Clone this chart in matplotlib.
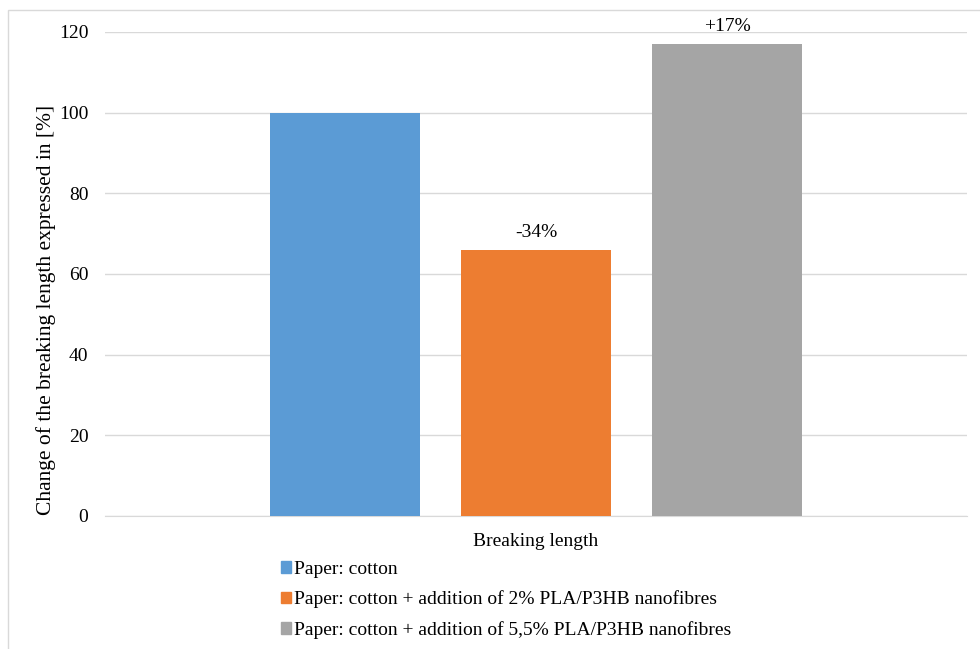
import matplotlib.pyplot as plt
from matplotlib.patches import Rectangle, Patch

# data
series = ["Paper: cotton",
          "Paper: cotton + addition of 2% PLA/P3HB nanofibres",
          "Paper: cotton + addition of 5,5% PLA/P3HB nanofibres"]
values = [100, 66, 117]
labels = ["", "-34%", "+17%"]
colors = ["#5B9BD5", "#ED7D31", "#A5A5A5"]
category = "Breaking length"

plt.rcParams['font.family'] = ['Liberation Serif', 'DejaVu Serif']

fig = plt.figure(figsize=(9.8, 6.49), dpi=100)
W, H = 980, 649
ax = fig.add_axes([105 / W, 1 - 516 / H, (967 - 105) / W, (516 - 32) / H])

# chart border
fig.patches.append(Rectangle((8 / W, -0.1), 1.2, 1 - 10 / H + 0.1, transform=fig.transFigure,
                             fill=False, edgecolor="#D9D9D9", linewidth=1))

offsets = [-0.2216, 0, 0.2216]
width = 0.175
for off, v, lab, c, s in zip(offsets, values, labels, colors, series):
    ax.bar(0.5 + off, v, width=width, color=c, label=s, zorder=3)
    if lab:
        ax.annotate(lab, (0.5 + off, v), xytext=(0, 6.5), textcoords="offset points",
                    ha="center", va="bottom", fontsize=14, color="#000000")

ax.set_xlim(0, 1)
ax.set_ylim(0, 120)
ax.set_yticks(range(0, 121, 20))
ax.set_xticks([0.5])
ax.set_xticklabels([category])
ax.tick_params(axis="both", length=0, labelsize=14, colors="#000000")
ax.tick_params(axis="y", pad=12)
ax.tick_params(axis="x", pad=12)
ax.grid(axis="y", color="#D9D9D9", linewidth=1, zorder=0)
for sp in ["top", "right", "left"]:
    ax.spines[sp].set_visible(False)
ax.spines["bottom"].set_color("#D9D9D9")

fig.text(46 / W, 1 - 310 / H, "Change of the breaking length expressed in [%]",
         rotation=90, ha="center", va="center", fontsize=15.5)

handles = [Patch(color=c) for c in colors]
fig.legend(handles, series, loc="upper left", bbox_to_anchor=(271 / W, 1 - 551 / H),
           frameon=False, fontsize=14, handlelength=0.55, handleheight=0.55,
           handletextpad=0.15, labelspacing=0.66, borderpad=0)

fig.savefig("out.png", dpi=100)
